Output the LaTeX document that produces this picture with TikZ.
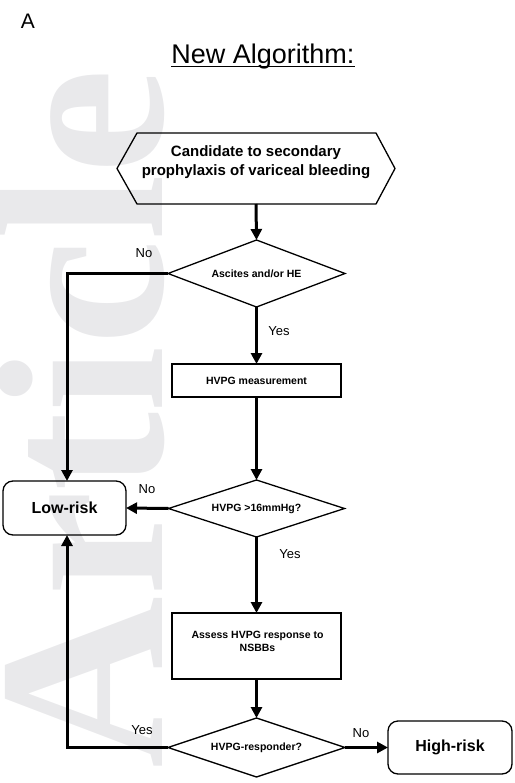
\documentclass[tikz,border=0pt]{standalone}
\usepackage{fontspec}
\setmainfont{Liberation Sans}
\newfontfamily\wmfont{Liberation Serif}
\usetikzlibrary{arrows.meta}
\definecolor{wmgray}{rgb}{0.915,0.915,0.92}
\tikzset{
  box/.style={draw=black, line width=1.3pt, inner sep=0pt, outer sep=0pt},
  decframe/.style={rectangle, inner sep=0pt, outer sep=0pt, font=\fontsize{10.5}{12.6}\selectfont\bfseries},
  decline/.style={draw=black, line width=1.3pt, line join=miter},
  rbox/.style={box, rectangle, font=\fontsize{10.5}{12.6}\selectfont\bfseries},
  risk/.style={box, rectangle, rounded corners=10pt, font=\fontsize{16}{19}\selectfont\bfseries},
  conn/.style={line width=3pt, -{Triangle[length=11pt,width=11pt]}},
  lab/.style={font=\fontsize{13}{15}\selectfont, inner sep=0pt},
}
\begin{document}
\begin{tikzpicture}[x=1pt,y=-1pt]
\useasboundingbox (0,0) rectangle (514,783);
% watermark
\node[rotate=90, anchor=base west, inner sep=0pt, text=wmgray, font=\wmfont\fontsize{238}{238}\selectfont\bfseries] (wmark) at (162,769) {Article};
% panel label and title
\node[font=\fontsize{21}{21}\selectfont, anchor=base, inner sep=0pt] (panel) at (28,28.3) {A};
\node[font=\fontsize{27}{27}\selectfont, anchor=base, inner sep=0pt] (title) at (263,63.3) {New Algorithm:};
\draw[line width=1.6pt] ([yshift=-3.4pt]title.base west) -- ([yshift=-3.4pt]title.base east);
% hexagon start
\node[inner sep=0pt, outer sep=0pt, minimum width=278pt, minimum height=71pt] (start) at (256,168.5) {};
\draw[box, line join=miter] (start.west) -- ([xshift=20pt]start.north west) -- ([xshift=-19pt]start.north east) -- (start.east) -- ([xshift=-19pt]start.south east) -- ([xshift=20pt]start.south west) -- cycle;
\node[align=center, inner sep=0pt, font=\fontsize{15}{19}\selectfont\bfseries] (starttext) at (256,162.6) {Candidate to secondary\\prophylaxis of variceal bleeding};
% decisions and boxes
\node[decframe, minimum width=177pt, minimum height=67pt] (d1) at (256.5,273.5) {Ascites and/or HE};
\draw[decline] (d1.north) -- (d1.east) -- (d1.south) -- (d1.west) -- cycle;
\node[rbox, minimum width=169pt, minimum height=33pt] (m1) at (256.5,380.5) {HVPG measurement};
\node[decframe, minimum width=176pt, minimum height=57pt] (d2) at (256.5,508.5) {HVPG >16mmHg?};
\draw[decline] (d2.north) -- (d2.east) -- (d2.south) -- (d2.west) -- cycle;
\node[rbox, minimum width=169pt, minimum height=66pt] (a1) at (256.5,646) {};
\node[align=center, inner sep=0pt, font=\fontsize{10.5}{12.7}\selectfont\bfseries] (a1text) at (257.5,641.5) {Assess HVPG response to\\NSBBs};
\node[decframe, minimum width=177pt, minimum height=59pt] (d3) at (256.5,747.5) {HVPG-responder?};
\draw[decline] (d3.north) -- (d3.east) -- (d3.south) -- (d3.west) -- cycle;
\node[risk, minimum width=123pt, minimum height=54pt] (lr) at (64.5,508) {Low-risk};
\node[risk, minimum width=124pt, minimum height=53pt] (hr) at (450,747.5) {High-risk};
\coordinate (lx) at (67,0);
% connectors
\draw[conn] (start.south) -- (d1.north);
\draw[conn, line join=miter] (d1.west) -| (lr.north -| lx);
\draw[conn] (d1.south) -- (m1.north);
\draw[conn] (m1.south) -- (d2.north);
\draw[conn] (d2.west) -- (lr.east);
\draw[conn] (d2.south) -- (a1.north);
\draw[conn] (a1.south) -- (d3.north);
\draw[conn, line join=miter] (d3.west) -| (lr.south -| lx);
\draw[conn] (d3.east) -- (hr.west);
% labels
\node[lab] (no1) at (144,253) {No};
\node[lab] (yes1) at (279,331) {Yes};
\node[lab] (no2) at (147,489) {No};
\node[lab] (yes2) at (290,554) {Yes};
\node[lab] (yes3) at (142,730) {Yes};
\node[lab] (no3) at (361,733) {No};
\end{tikzpicture}
\end{document}
